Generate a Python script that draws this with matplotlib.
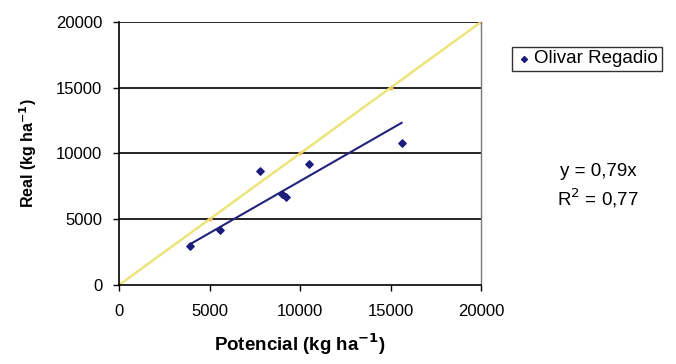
import numpy as np
import matplotlib.pyplot as plt

plt.rcParams['font.family'] = ['Liberation Sans', 'DejaVu Sans']

# datos
potencial = [3900, 5600, 7800, 9000, 9200, 10500, 15600]
real = [3000, 4200, 8700, 6900, 6700, 9200, 10800]
pendiente = 0.79
linea_11 = [0, 5000, 10000, 15000, 20000]
ticks = [0, 5000, 10000, 15000, 20000]

fig = plt.figure(figsize=(6.76, 3.64), dpi=100)
ax = fig.add_axes([0.176, 0.217, 0.536, 0.723])

# linea 1:1
ax.plot(linea_11, linea_11, color='#ece57a', lw=1.8, zorder=2,
        marker='o', ms=3, mfc='#f0c060', mec='none')

# recta de regresion
xr = np.array([min(potencial), max(potencial)])
ax.plot(xr, pendiente * xr, color='#22227a', lw=1.5, zorder=3)

ax.scatter(potencial, real, marker='D', s=14, color='#1c1c7c', zorder=4,
           label='Olivar Regadio')

for v in ticks[1:]:
    ax.axhline(v, color='black', lw=1.2, zorder=1)

ax.set_xlim(0, 20000)
ax.set_ylim(0, 20000)
ax.set_xticks(ticks)
ax.set_yticks(ticks)
ax.tick_params(labelsize=12, length=4, width=1, direction='out')
ax.tick_params(axis='y', pad=8)
ax.tick_params(axis='x', pad=10)
ax.spines['top'].set_visible(False)
ax.spines['right'].set_color('#777777')
ax.spines['right'].set_linewidth(1.0)
ax.spines['left'].set_linewidth(1.2)
ax.spines['bottom'].set_linewidth(1.2)
ax.spines['left'].set_zorder(5)

ax.set_xlabel('Potencial (kg ha$^{\\mathbf{-1}}$)', fontsize=13.5, fontweight='bold', labelpad=9)
ax.set_ylabel('Real (kg ha$^{\\mathbf{-1}}$)', fontsize=11.5, fontweight='bold', labelpad=12)

leg = fig.legend(loc='upper left', bbox_to_anchor=(0.757, 0.872), fontsize=13.5,
                 frameon=True, fancybox=False, edgecolor='black',
                 handletextpad=0.1, borderpad=0.2, markerscale=0.8,
                 handlelength=0.9, borderaxespad=0)
leg.get_frame().set_linewidth(1.0)

fig.text(0.885, 0.530, 'y = 0,79x', fontsize=13.5, ha='center', va='center')
fig.text(0.885, 0.456, 'R$^2$ = 0,77', fontsize=13.5, ha='center', va='center')

fig.savefig('out.png', dpi=100)
